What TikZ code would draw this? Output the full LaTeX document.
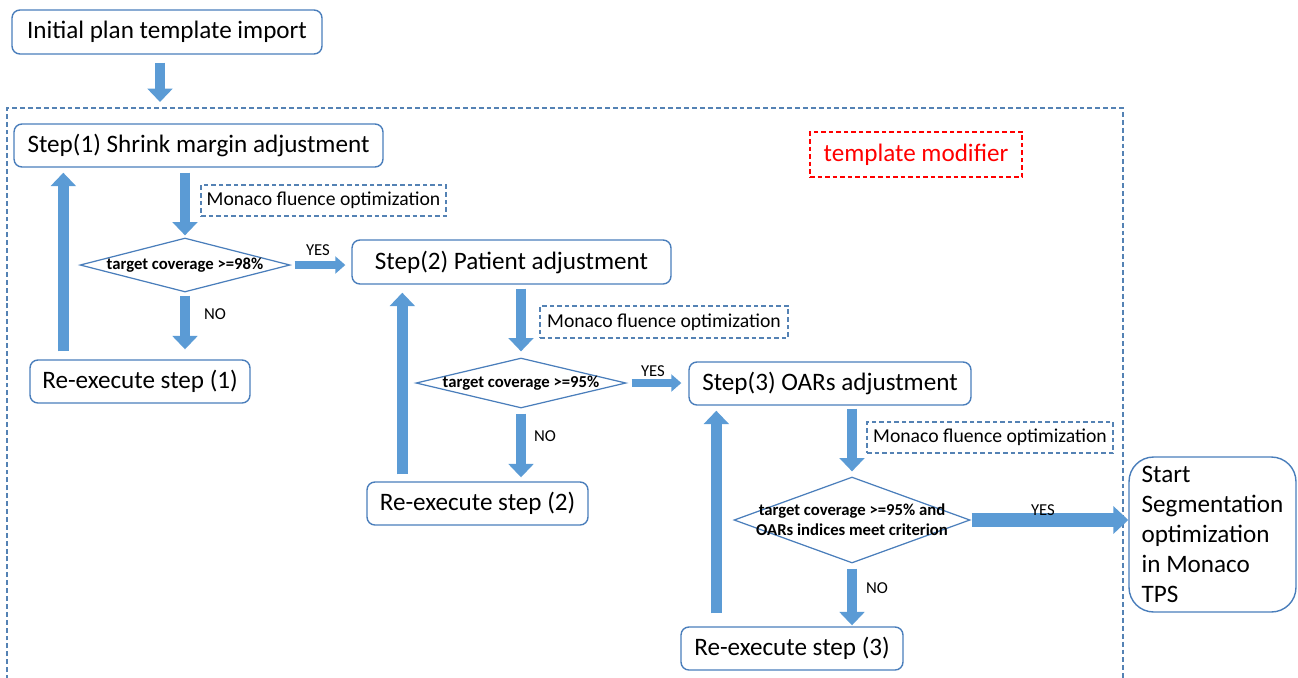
\documentclass[tikz,border=0pt]{standalone}
\usepackage{fontspec}
\setmainfont{Carlito}
\usetikzlibrary{shapes.geometric,arrows.meta}

\definecolor{boxblue}{RGB}{74,126,187}
\definecolor{dashblue}{RGB}{84,130,180}
\definecolor{arrowblue}{RGB}{91,155,213}

\begin{document}
\begin{tikzpicture}[x=0.02cm,y=-0.02cm,
  stepbox/.style={draw=boxblue,line width=0.8pt,rounded corners=4.5pt,inner sep=0pt,
    font=\fontsize{14.3}{17}\selectfont},
  optbox/.style={draw=dashblue,line width=0.7pt,dash pattern=on 2.6pt off 1.7pt,inner sep=0pt,
    font=\fontsize{11.2}{13}\selectfont},
  decision/.style={diamond,draw=boxblue,line width=0.7pt,inner sep=0pt,align=center,
    font=\fontsize{9.5}{11.5}\selectfont\bfseries},
  answer/.style={font=\fontsize{9.5}{11}\selectfont},
  flow/.style={draw=arrowblue,line width=6.2pt,-{Triangle[width=14pt,length=7.6pt]}},
  yesflow/.style={draw=arrowblue,line width=5.1pt,-{Triangle[width=9.6pt,length=5.7pt]}},
  bigflow/.style={draw=arrowblue,line width=7.9pt,-{Triangle[width=15.3pt,length=8.5pt]}}]

  \useasboundingbox (0,0) rectangle (1298,677);

  % Outer frame (open at the bottom)
  \coordinate (ftl) at (7,108);
  \coordinate (ftr) at (1123,108);
  \draw[draw=dashblue,line width=0.7pt,dash pattern=on 2.8pt off 1.7pt]
    (7,680) -- (ftl) -- (ftr) -- (1123,680);

  % Boxes
  \node[stepbox,minimum width=6.2cm,minimum height=0.88cm] (init) at (167,32) {Initial plan template import};
  \node[stepbox,minimum width=7.38cm,minimum height=0.86cm] (s1) at (198.5,145.5) {Step(1) Shrink margin adjustment};
  \node[stepbox,minimum width=6.38cm,minimum height=0.88cm] (s2) at (511.5,262) {Step(2) Patient adjustment};
  \node[stepbox,minimum width=5.64cm,minimum height=0.86cm] (s3) at (830,383.5) {Step(3) OARs adjustment};
  \node[stepbox,minimum width=4.4cm,minimum height=0.86cm] (r1) at (140,381.5) {Re-execute step (1)};
  \node[stepbox,minimum width=4.42cm,minimum height=0.86cm] (r2) at (477.5,503.5) {Re-execute step (2)};
  \node[stepbox,minimum width=4.44cm,minimum height=0.86cm] (r3) at (792,648.5) {Re-execute step (3)};
  \node[stepbox,rounded corners=14pt,minimum width=3.34cm,minimum height=3.1cm,
    align=left,font=\fontsize{14.3}{17}\selectfont] (start) at (1212.5,534.5)
    {Start\\Segmentation\\optimization\\in Monaco\\TPS};

  % Template modifier label
  \node[draw=red,line width=0.7pt,dash pattern=on 2.6pt off 1.7pt,text=red,inner sep=0pt,
    minimum width=4.24cm,minimum height=0.9cm,font=\fontsize{14.3}{17}\selectfont] (mod) at (916,154.5) {template modifier};

  % Optimization notes
  \node[optbox,minimum width=4.9cm,minimum height=0.62cm] (m1) at (323.5,200.5) {Monaco fluence optimization};
  \node[optbox,minimum width=4.96cm,minimum height=0.64cm] (m2) at (664,322) {Monaco fluence optimization};
  \node[optbox,minimum width=4.92cm,minimum height=0.62cm] (m3) at (990,437.5) {Monaco fluence optimization};

  % Decisions
  \node[decision,aspect=3.9,inner xsep=-6pt,minimum width=4.2cm,minimum height=1.08cm] (d1) at (185,265) {target coverage >=98\%};
  \node[decision,aspect=4.2,inner xsep=-6pt,minimum width=4.2cm,minimum height=1.0cm] (d2) at (521,383) {target coverage >=95\%};
  \node[decision,aspect=2.74,inner xsep=-14pt,minimum width=4.72cm,minimum height=1.72cm] (d3) at (852,520)
    {target coverage >=95\% and\\OARs indices meet criterion};

  % Flow arrows
  \draw[flow,shorten <=0.16cm,shorten >=0.12cm] ([xshift=-0.14cm]init.south) -- ([xshift=-0.14cm]init.south |- ftl);

  \draw[flow,shorten <=0.1cm,shorten >=0.04cm] (d1.north |- s1.south) -- (d1.north);
  \draw[yesflow,shorten <=0.08cm,shorten >=0.12cm] (d1.east) -- (d1.east -| s2.west);
  \draw[flow,shorten <=0.06cm,shorten >=0.2cm] (d1.south) -- (d1.south |- r1.north);
  \draw[flow,shorten <=0.16cm,shorten >=0.1cm] ([xshift=0.68cm]r1.north west) -- ([xshift=0.68cm]r1.north west |- s1.south);

  \draw[flow,shorten <=0.08cm,shorten >=0.12cm] (d2.north |- s2.south) -- (d2.north);
  \draw[yesflow,shorten <=0.1cm,shorten >=0.14cm] (d2.east) -- (d2.east -| s3.west);
  \draw[flow,shorten <=0.1cm,shorten >=0.08cm] (d2.south) -- (d2.south |- r2.north);
  \draw[flow,shorten <=0.14cm,shorten >=0.16cm] ([xshift=0.72cm]r2.north west) -- ([xshift=0.72cm]r2.north west |- s2.south);

  \draw[flow,shorten <=0.06cm,shorten >=0.1cm] (d3.north |- s3.south) -- (d3.north);
  \draw[bigflow,shorten <=0.02cm,shorten >=0cm] (d3.east) -- (d3.east -| start.west);
  \draw[flow,shorten <=0.1cm,shorten >=0.02cm] (d3.south) -- (d3.south |- r3.north);
  \draw[flow,shorten <=0.26cm,shorten >=0.1cm] ([xshift=0.72cm]r3.north west) -- ([xshift=0.72cm]r3.north west |- s3.south);

  % Answers
  \node[answer] (yes1) at (318,250) {YES};
  \node[answer] (no1) at (215,314) {NO};
  \node[answer] (yes2) at (653,371) {YES};
  \node[answer] (no2) at (545,436) {NO};
  \node[answer] (yes3) at (1043,510) {YES};
  \node[answer] (no3) at (877,588) {NO};

\end{tikzpicture}
\end{document}
